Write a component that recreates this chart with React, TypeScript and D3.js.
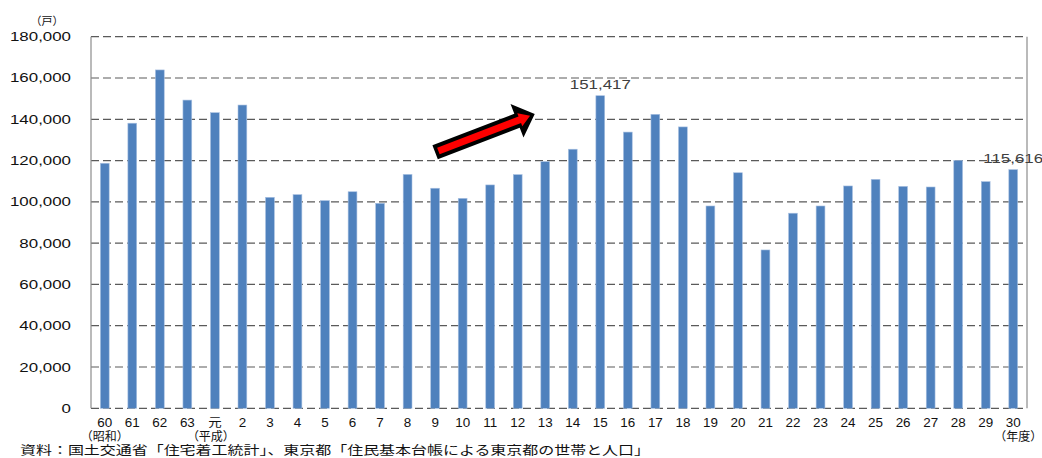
import { useRef, useEffect } from "react";
import * as d3 from "d3";

// 年度（昭和60年度〜平成30年度）
const categories = [
  "60", "61", "62", "63", "元", "2", "3", "4", "5", "6", "7", "8", "9", "10", "11", "12", "13",
  "14", "15", "16", "17", "18", "19", "20", "21", "22", "23", "24", "25", "26", "27", "28", "29", "30",
];

// 新設住宅着工戸数（戸）
const values = [
  118700, 138100, 163900, 149300, 143200, 146900, 102200, 103500, 100600, 104900, 99300, 113300,
  106600, 101700, 108200, 113200, 119500, 125500, 151417, 133800, 142400, 136300, 98000, 114100,
  76700, 94500, 98000, 107700, 110900, 107500, 107200, 120100, 109800, 115616,
];

const yTicks = [0, 20000, 40000, 60000, 80000, 100000, 120000, 140000, 160000, 180000];

const eraLabels = [
  { cat: "60", text: "（昭和）", dx: 0 },
  { cat: "元", text: "（平成）", dx: -4 },
  { cat: "30", text: "（年度）", dx: 5 },
];

const valueLabels = [
  { cat: "15", value: 151417 },
  { cat: "30", value: 115616 },
];

// 矢印（始点・終点）
const arrowFrom = { cat: "9", value: 124000, dx: 0 };
const arrowTo = { cat: "13", value: 142600, dx: -10.5 };

const unitLabel = "（戸）";
const sourceText = "資料：国土交通省「住宅着工統計」、東京都「住民基本台帳による東京都の世帯と人口」";

const W = 1042;
const H = 458;
const margin = { left: 91, right: 15, top: 36.7, bottom: 49.7 };

const App = () => {
  const svgRef = useRef<SVGSVGElement | null>(null);

  useEffect(() => {
    const svg = d3.select(svgRef.current);
    svg.selectAll("*").remove();

    const x = d3
      .scaleBand<string>()
      .domain(categories)
      .range([margin.left, W - margin.right])
      .paddingInner(0.68)
      .paddingOuter(0.34);

    const y = d3
      .scaleLinear()
      .domain([0, 180000])
      .range([H - margin.bottom, margin.top]);

    const cx = (c: string) => (x(c) as number) + x.bandwidth() / 2;
    const numFont = "'Liberation Sans', Arial, sans-serif";
    const jpFont = "'Noto Sans CJK JP', sans-serif";

    // グリッド線
    svg
      .append("g")
      .selectAll("line")
      .data(yTicks)
      .join("line")
      .attr("x1", margin.left)
      .attr("x2", W - margin.right)
      .attr("y1", (d) => y(d))
      .attr("y2", (d) => y(d))
      .attr("stroke", "#5a5a5a")
      .attr("stroke-width", 1.2)
      .attr("stroke-dasharray", "8,4");

    // 枠（左右）
    [margin.left, W - margin.right].forEach((px) => {
      svg
        .append("line")
        .attr("x1", px)
        .attr("x2", px)
        .attr("y1", y(180000))
        .attr("y2", y(0))
        .attr("stroke", "#8c8c8c")
        .attr("stroke-width", 1.2);
    });

    // 棒
    svg
      .append("g")
      .selectAll("rect")
      .data(values)
      .join("rect")
      .attr("x", (_, i) => x(categories[i]) as number)
      .attr("y", (d) => y(d))
      .attr("width", x.bandwidth())
      .attr("height", (d) => y(0) - y(d))
      .attr("fill", "#4f81bd")
      .attr("stroke", "#a9c1e2")
      .attr("stroke-width", 0.6);

    // Y軸ラベル
    svg
      .append("g")
      .selectAll("text")
      .data(yTicks)
      .join("text")
      .attr("transform", (d) => `translate(71,${y(d) + 4.5}) scale(1.3,1)`)
      .attr("text-anchor", "end")
      .attr("font-family", numFont)
      .attr("font-size", "13px")
      .attr("fill", "#111")
      .text((d) => d3.format(",")(d));

    svg
      .append("text")
      .attr("x", 47)
      .attr("y", 25)
      .attr("text-anchor", "middle")
      .attr("font-family", jpFont)
      .attr("font-size", "11px")
      .attr("fill", "#111")
      .text(unitLabel);

    // X軸ラベル
    svg
      .append("g")
      .selectAll("text")
      .data(categories)
      .join("text")
      .attr("transform", (d) => `translate(${cx(d)},427) scale(1.12,1)`)
      .attr("text-anchor", "middle")
      .attr("font-family", (d) => (d === "元" ? jpFont : numFont))
      .attr("font-size", "12px")
      .attr("fill", "#111")
      .text((d) => d);

    svg
      .append("g")
      .selectAll("text")
      .data(eraLabels)
      .join("text")
      .attr("x", (d) => cx(d.cat) + d.dx - 24)
      .attr("y", 440.5)
      .attr("font-family", jpFont)
      .attr("font-size", "12px")
      .attr("fill", "#111")
      .attr("textLength", 48)
      .attr("lengthAdjust", "spacingAndGlyphs")
      .text((d) => d.text);

    // 値ラベル
    svg
      .append("g")
      .selectAll("text")
      .data(valueLabels)
      .join("text")
      .attr("transform", (d) => `translate(${cx(d.cat)},${y(d.value) - 6.5}) scale(1.3,1)`)
      .attr("text-anchor", "middle")
      .attr("font-family", numFont)
      .attr("font-size", "13px")
      .attr("fill", "#404040")
      .text((d) => d3.format(",")(d.value));

    // 矢印
    const x0 = cx(arrowFrom.cat) + arrowFrom.dx;
    const y0 = y(arrowFrom.value);
    const x1 = cx(arrowTo.cat) + arrowTo.dx;
    const y1 = y(arrowTo.value);
    const len = Math.hypot(x1 - x0, y1 - y0);
    const ang = (Math.atan2(y1 - y0, x1 - x0) * 180) / Math.PI;
    const arrow = svg.append("g").attr("transform", `translate(${x0},${y0}) rotate(${ang})`);
    const shape = (s: number, e: number, hw: number, hh: number, hl: number) =>
      `M${s},${-hw}L${e - hl},${-hw}L${e - hl},${-hh}L${e},0L${e - hl},${hh}L${e - hl},${hw}L${s},${hw}Z`;
    arrow.append("path").attr("d", shape(0, len, 7.5, 18, 19)).attr("fill", "#000");
    arrow.append("path").attr("d", shape(3.5, len - 5, 3.5, 7, 11)).attr("fill", "#ff0000");

    // 資料
    svg
      .append("text")
      .attr("x", 20)
      .attr("y", 455)
      .attr("font-family", jpFont)
      .attr("font-size", "12.5px")
      .attr("fill", "#111")
      .attr("textLength", 630)
      .attr("lengthAdjust", "spacingAndGlyphs")
      .text(sourceText);
  }, []);

  return (
    <svg
      ref={svgRef}
      width={W}
      height={H}
      viewBox={`0 0 ${W} ${H}`}
      style={{ position: "absolute", left: 0, top: 0, background: "#fff" }}
    ></svg>
  );
};

export default App;
